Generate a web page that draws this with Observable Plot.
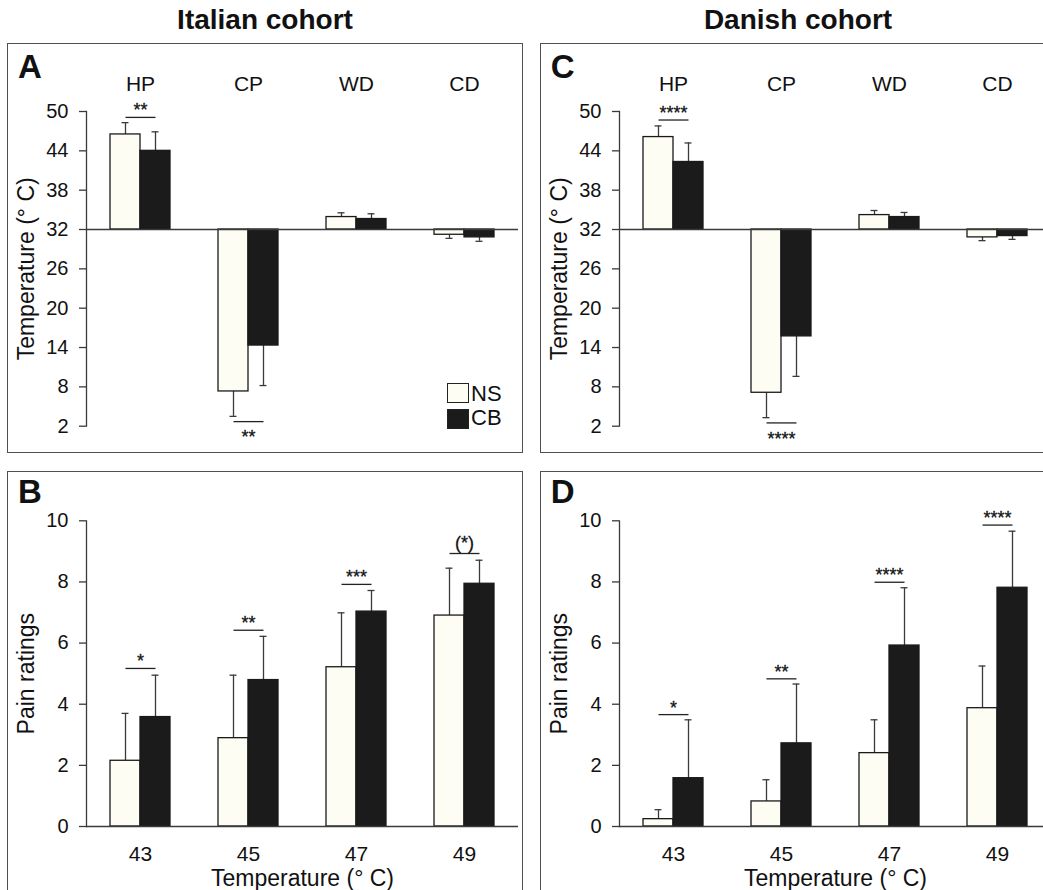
<!DOCTYPE html>
<html><head><meta charset="utf-8">
<script src="https://cdn.jsdelivr.net/npm/d3@7"></script>
<script src="https://cdn.jsdelivr.net/npm/@observablehq/plot@0.6"></script>
<style>
html,body{margin:0;padding:0;background:#fff;overflow:hidden}
#root{position:relative;width:1043px;height:890px;overflow:hidden;font-family:"Liberation Sans",Arial,sans-serif;color:#111}
.frame{position:absolute;border:1.5px solid #505050;box-sizing:border-box}
.panel{position:absolute;width:514px}
.panel svg{overflow:visible;max-width:none!important}
.t{position:absolute;white-space:nowrap;line-height:1}
.title{font-weight:bold;font-size:28px;transform:translateX(-50%)}
.letter{font-weight:bold;font-size:33px}
.sw{position:absolute;width:22px;height:20px;box-sizing:border-box;border:1.4px solid #222}
g[aria-label$="axis label"]{font-size:23px}
</style></head><body><div id="root"></div>
<script>
// ---------- data ----------
const cohorts = ["Italian cohort", "Danish cohort"];
const panelLetters = ["A", "B", "C", "D"];
const series = ["NS", "CB"];
const seriesColors = ["#fdfdf4", "#1b1b1b"];

// threshold panels (A, C)
const thresholdCats = ["HP", "CP", "WD", "CD"];
const thresholdBaseline = 32;
const thresholdTicks = [2, 8, 14, 20, 26, 32, 38, 44, 50];
const thresholdLabel = "Temperature (° C)";

const itThrNS   = [46.5, 7.3, 33.9, 31.2];
const itThrNSsd = [1.8, 3.8, 0.65, 0.55];
const itThrCB   = [44.0, 14.3, 33.6, 30.8];
const itThrCBsd = [2.9, 6.1, 0.8, 0.6];
const itThrSigCats = ["HP", "CP"];
const itThrSigText = ["**", "**"];
const itThrSigY    = [49.1, 2.7];

const dkThrNS   = [46.1, 7.1, 34.2, 30.8];
const dkThrNSsd = [1.7, 3.8, 0.7, 0.5];
const dkThrCB   = [42.3, 15.7, 33.9, 31.0];
const dkThrCBsd = [2.9, 6.1, 0.7, 0.5];
const dkThrSigCats = ["HP", "CP"];
const dkThrSigText = ["****", "****"];
const dkThrSigY    = [48.7, 2.5];

// pain rating panels (B, D)
const painCats = ["43", "45", "47", "49"];
const painBaseline = 0;
const painTicks = [0, 2, 4, 6, 8, 10];
const painLabel = "Pain ratings";
const painXLabel = "Temperature (° C)";

const itPainNS   = [2.15, 2.89, 5.21, 6.90];
const itPainNSsd = [1.55, 2.06, 1.78, 1.55];
const itPainCB   = [3.58, 4.79, 7.03, 7.94];
const itPainCBsd = [1.37, 1.43, 0.69, 0.77];
const itPainSigText = ["*", "**", "***", "(*)"];
const itPainSigY    = [5.17, 6.42, 7.92, 8.93];

const dkPainNS   = [0.24, 0.82, 2.40, 3.87];
const dkPainNSsd = [0.31, 0.71, 1.09, 1.38];
const dkPainCB   = [1.58, 2.72, 5.92, 7.81];
const dkPainCBsd = [1.91, 1.94, 1.89, 1.85];
const dkPainSigText = ["*", "**", "****", "****"];
const dkPainSigY    = [3.66, 4.83, 7.99, 9.86];

// ---------- helpers ----------
function buildRows(cats, vals, sds, base) {
  const rows = [];
  cats.forEach((c, i) => series.forEach((s, j) => {
    const v = vals[j][i], sd = sds[j][i];
    rows.push({cat: c, series: s, value: v, end: v >= base ? v + sd : v - sd});
  }));
  return rows;
}
function buildSig(cats, texts, ys, nsVals, allCats, base) {
  return cats.map((c, i) => ({
    cat: c, label: texts[i], y: ys[i],
    below: nsVals[allCats.indexOf(c)] < base,
    paren: texts[i].includes("(")
  }));
}

const FONT = '"Liberation Sans", Arial, sans-serif';
const AXIS = "#3a3a3a";

function panel({cats, rows, sig, base, yDomain, ticks, yLabel, xLabel, height, marginTop, marginBottom}) {
  const marks = [
    Plot.ruleX(rows, {fx: "cat", x: "series", y1: "value", y2: "end", stroke: AXIS, strokeWidth: 1.3}),
    Plot.tickY(rows, {fx: "cat", x: "series", y: "end", stroke: AXIS, strokeWidth: 1.3, insetLeft: 11.5, insetRight: 11.5}),
    Plot.barY(rows, {fx: "cat", x: "series", y1: base, y2: "value", fill: "series", stroke: "#1a1a1a", strokeWidth: 1.3}),
    Plot.ruleY([base], {stroke: AXIS, strokeWidth: 1.4}),
    Plot.frame({anchor: "left", facetAnchor: "left", stroke: AXIS, strokeWidth: 1.3}),
    Plot.axisY({ticks, tickSize: 7, tickPadding: 11, fontSize: 20, stroke: AXIS, strokeWidth: 1.3, label: yLabel, labelAnchor: "center", labelOffset: 69, labelArrow: "none"}),
    Plot.link(sig, {fx: "cat", x1: () => "NS", x2: () => "CB", y1: "y", y2: "y", stroke: "#222", strokeWidth: 1.3}),
    Plot.text(sig.filter(d => !d.below && !d.paren), {fx: "cat", y: "y", text: "label", lineAnchor: "bottom", dy: -1, fontSize: 18, fill: "#111", stroke: "#111", strokeWidth: 0.3}),
    Plot.text(sig.filter(d => !d.below && d.paren), {fx: "cat", y: "y", text: "label", lineAnchor: "bottom", dy: -5, fontSize: 18, fill: "#111", stroke: "#111", strokeWidth: 0.3}),
    Plot.text(sig.filter(d => d.below), {fx: "cat", y: "y", text: "label", lineAnchor: "top", dy: 9, fontSize: 18, fill: "#111", stroke: "#111", strokeWidth: 0.3})
  ];
  if (xLabel) {
    marks.push(Plot.axisFx({anchor: "bottom", tickSize: 0, tickPadding: 20, fontSize: 21, label: xLabel, labelAnchor: "center", labelOffset: 59, labelArrow: "none"}));
  } else {
    marks.push(Plot.axisFx({anchor: "top", tickSize: 0, tickPadding: 21, fontSize: 21, label: null}));
  }
  return Plot.plot({
    width: 514, height,
    marginLeft: 78, marginRight: 4, marginTop, marginBottom,
    style: {fontFamily: FONT, fontSize: "20px", color: "#111", background: "transparent"},
    fx: {domain: cats, padding: 0, label: null},
    x: {domain: series, paddingInner: 0, paddingOuter: 0.742, axis: null},
    y: {domain: yDomain},
    color: {domain: series, range: seriesColors},
    marks
  });
}

// ---------- layout ----------
const root = document.getElementById("root");
function add(el, css) { Object.assign(el.style, css); root.appendChild(el); return el; }
function text(str, cls, css) { const d = document.createElement("div"); d.className = "t " + cls; d.textContent = str; return add(d, css); }

const colX = [8, 540.7];
const titleX = [265, 798];

const panels = [
  {col: 0, row: 0, letter: panelLetters[0], cats: thresholdCats,
   rows: buildRows(thresholdCats, [itThrNS, itThrCB], [itThrNSsd, itThrCBsd], thresholdBaseline),
   sig: buildSig(itThrSigCats, itThrSigText, itThrSigY, itThrNS, thresholdCats, thresholdBaseline),
   base: thresholdBaseline, yDomain: [2, 50], ticks: thresholdTicks, yLabel: thresholdLabel, legend: true},
  {col: 0, row: 1, letter: panelLetters[1], cats: painCats,
   rows: buildRows(painCats, [itPainNS, itPainCB], [itPainNSsd, itPainCBsd], painBaseline),
   sig: buildSig(painCats, itPainSigText, itPainSigY, itPainNS, painCats, painBaseline),
   base: painBaseline, yDomain: [0, 10], ticks: painTicks, yLabel: painLabel, xLabel: painXLabel},
  {col: 1, row: 0, letter: panelLetters[2], cats: thresholdCats,
   rows: buildRows(thresholdCats, [dkThrNS, dkThrCB], [dkThrNSsd, dkThrCBsd], thresholdBaseline),
   sig: buildSig(dkThrSigCats, dkThrSigText, dkThrSigY, dkThrNS, thresholdCats, thresholdBaseline),
   base: thresholdBaseline, yDomain: [2, 50], ticks: thresholdTicks, yLabel: thresholdLabel},
  {col: 1, row: 1, letter: panelLetters[3], cats: painCats,
   rows: buildRows(painCats, [dkPainNS, dkPainCB], [dkPainNSsd, dkPainCBsd], painBaseline),
   sig: buildSig(painCats, dkPainSigText, dkPainSigY, dkPainNS, painCats, painBaseline),
   base: painBaseline, yDomain: [0, 10], ticks: painTicks, yLabel: painLabel, xLabel: painXLabel}
];

cohorts.forEach((c, i) => text(c, "title", {left: titleX[i] + "px", top: (29.3 - 0.8465 * 28) + "px"}));

for (const p of panels) {
  const left = colX[p.col];
  const top = p.row === 0 ? 44 : 471.7;
  const height = p.row === 0 ? 408 : 430;
  const marginTop = p.row === 0 ? 67 : 48.3;
  const marginBottom = p.row === 0 ? 408 - 67 - 314.7 : 430 - 48.3 - 305.7;
  const fr = document.createElement("div"); fr.className = "frame";
  add(fr, {left: (left - 0.75) + "px", top: (top - 0.75) + "px", width: "515.5px", height: (height + 1.5) + "px"});
  const holder = document.createElement("div"); holder.className = "panel";
  add(holder, {left: left + "px", top: top + "px"});
  holder.appendChild(panel({...p, height, marginTop, marginBottom}));
  const baseY = p.row === 0 ? 78 : 503.3;
  text(p.letter, "letter", {left: (left + 10) + "px", top: (baseY - 0.8465 * 33) + "px"});
  if (p.legend) {
    series.forEach((s, j) => {
      const sw = document.createElement("div"); sw.className = "sw";
      add(sw, {left: "447px", top: (383.3 + j * 25.5) + "px", background: seriesColors[j]});
      text(s, "", {left: "471px", top: (401.7 + j * 24 - 0.8465 * 22) + "px", fontSize: "22px"});
    });
  }
}
</script></body></html>
